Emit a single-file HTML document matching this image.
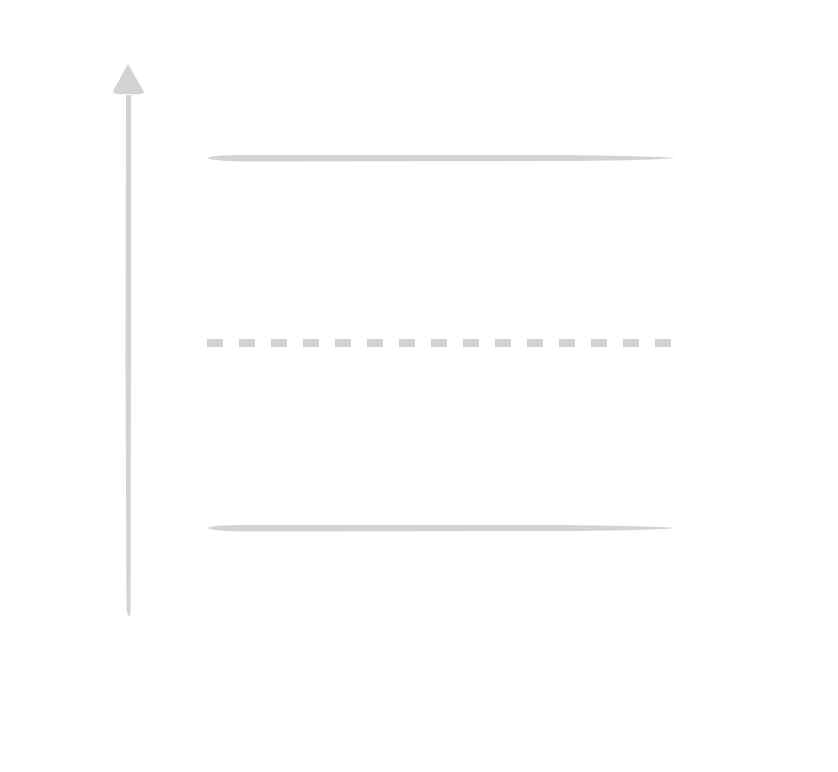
<!DOCTYPE html>
<html><head><style>body{margin:0;background:#fff}</style></head><body>
<svg width="838" height="767" viewBox="0 0 838 767" xmlns="http://www.w3.org/2000/svg">
<rect width="838" height="767" fill="#fff"/>
<path d="M128 64 L144 92 Q143 95 128 94 Q112 95 113 91 Z" fill="#d3d3d3"/>
<path d="M126 95 L131 95 L131 360 L130.5 614 L128.5 617 L126.5 610 L125.5 360 Z" fill="#d3d3d3"/>
<path d="M208 158 Q210 154.5 260 155 L560 155 Q650 156 676 158 Q650 160.5 560 161 L260 161.5 Q210 161.5 208 158 Z" fill="#d3d3d3"/>
<path d="M208 528 Q210 524.5 260 525 L560 525 Q650 526 676 528 Q650 530.5 560 531 L260 531.5 Q210 531.5 208 528 Z" fill="#d3d3d3"/>
<line x1="207" y1="343" x2="672" y2="343" stroke="#d3d3d3" stroke-width="8" stroke-dasharray="16 16"/>
</svg>
</body></html>
